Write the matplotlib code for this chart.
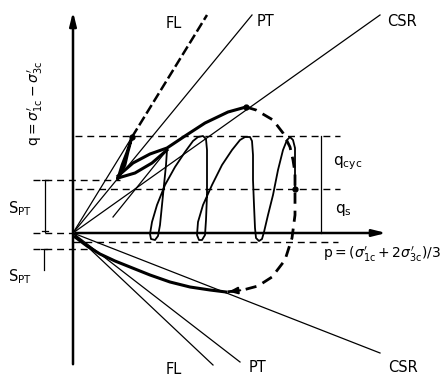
import numpy as np
import matplotlib.pyplot as plt

plt.rcParams['font.family'] = ['DejaVu Sans']
plt.rcParams['mathtext.fontset'] = 'dejavusans'

# stress path values (p along x, q along y, arbitrary units)
q_top = 97      # q_s + q_cyc
q_s = 44
q_bot = -9      # q_s - q_cyc
q_spt = 53
q_spt_low = -16

# envelope lines: end points (p, q), all start at the origin
line_names = ['FL', 'PT', 'CSR']
upper_p = [134, 179, 307]
upper_q = [218, 218, 218]
lower_p = [140, 167, 307]
lower_q = [-132, -129, -120]

# point where the path hits the FL line
fl_p, fl_q = 59, 96

# first loading spike towards FL
spike_p = [45, 49, 54, 59, 55, 52, 47, 45]
spike_q = [55, 68, 81, 96, 81, 68, 58, 55]

# thick lens and monotonic curve up to CSR
lens_p = [45, 62, 79, 94]
lens_q = [55, 60, 70, 83]
mono_p = [45, 60, 77, 94, 112, 132, 155, 173]
mono_q = [57, 70, 79, 85, 97, 110, 121, 126]

# short thin line under the lens
short_p = [40, 94]
short_q = [16, 83]

# cyclic loops
cyc_p = [94, 93, 91, 89, 87, 85, 82, 78, 77, 79, 84, 92, 102, 112, 120, 125, 130,
         133, 134, 134, 134, 133, 132, 129, 126, 124, 125, 130, 139, 149, 159, 167,
         172, 177, 179, 180, 180, 181, 182, 183, 186, 189, 191, 195, 200, 205, 210,
         214, 217, 220, 222, 222, 222]
cyc_q = [83, 68, 48, 28, 8, -3, -7, -6, -1, 11, 28, 48, 66, 81, 92, 96, 97,
         94, 83, 63, 38, 13, -2, -7, -7, -2, 11, 28, 48, 68, 83, 93,
         96, 96, 92, 78, 53, 28, 5, -5, -8, -6, 1, 18, 38, 63, 83,
         93, 96, 93, 85, 68, 44]

# dashed arc (undrained path beyond CSR)
arc_p = [173, 183, 200, 210, 217, 220, 222, 222, 222, 219, 212, 199, 185, 170, 153]
arc_q = [126, 123, 113, 100, 86, 73, 60, 44, 18, -5, -27, -44, -53, -57, -59]

# lower (extension) thick curve
low_p = [2, 14, 27, 42, 57, 77, 97, 117, 137, 153]
low_q = [-4, -13, -21, -28, -34, -42, -49, -54, -57, -59]

fig = plt.figure(figsize=(4.46, 3.78), dpi=100)
ax = fig.add_axes([0, 0, 1, 1])
ax.set_xlim(-73, 373)
ax.set_ylim(-145, 233)
ax.axis('off')

# axes of the diagram
ax.annotate('', xy=(0, 224), xytext=(0, -134),
            arrowprops=dict(arrowstyle='-|>,head_length=0.8,head_width=0.2', lw=1.8, color='black'))
ax.annotate('', xy=(316, 0), xytext=(0, 0),
            arrowprops=dict(arrowstyle='-|>,head_length=0.8,head_width=0.2', lw=1.8, color='black'))

# dashed reference levels
dash = dict(color='black', lw=1.0, ls=(0, (5, 3.5)))
ax.plot([2, 267], [q_top, q_top], **dash)
ax.plot([2, 267], [q_s, q_s], **dash)
ax.plot([0, 265], [q_bot, q_bot], **dash)
ax.plot([-40, 47], [q_spt, q_spt], **dash)
ax.plot([-40, 0], [0, 0], **dash)
ax.plot([-40, 20], [q_spt_low, q_spt_low], **dash)

# envelope lines
for name, p1, q1 in zip(line_names, upper_p, upper_q):
    if name == 'FL':
        ax.plot([0, fl_p], [0, fl_q], color='black', lw=0.9)
        ax.plot([fl_p, p1], [fl_q, q1], color='black', lw=1.8, ls=(0, (4, 1.5)))
    else:
        ax.plot([0, p1], [0, q1], color='black', lw=0.9)
for name, p1, q1 in zip(line_names, lower_p, lower_q):
    ax.plot([0, p1], [0, q1], color='black', lw=0.9)

# stress paths
ax.plot(spike_p, spike_q, color='black', lw=2.0)
ax.plot(lens_p, lens_q, color='black', lw=2.2)
ax.plot(mono_p, mono_q, color='black', lw=2.2)
ax.plot(short_p, short_q, color='black', lw=0.9)
ax.plot(cyc_p, cyc_q, color='black', lw=1.3)
ax.plot(arc_p, arc_q, color='black', lw=2.0, ls=(0, (4, 2.5)))
ax.plot(low_p, low_q, color='black', lw=2.2)
ax.annotate('', xy=(arc_p[-1], arc_q[-1]), xytext=(arc_p[-2], arc_q[-2]),
            arrowprops=dict(arrowstyle='-|>,head_length=0.5,head_width=0.2', lw=1.5, color='black'))
ax.plot([fl_p, mono_p[-1], cyc_p[-1]], [fl_q, mono_q[-1], cyc_q[-1]], 'o', color='black', ms=3.5)

# brackets
ax.plot([-28, -28], [q_spt, 1], color='black', lw=0.9)
ax.plot([-31, -25], [q_spt, q_spt], color='black', lw=0.9)
ax.plot([-31, -25], [2, 2], color='black', lw=0.9)
ax.plot([-29, -29], [q_spt_low, -37], color='black', lw=0.9)
ax.plot([-32, -26], [q_spt_low, q_spt_low], color='black', lw=0.9)
ax.plot([248, 248], [q_top, 0], color='black', lw=0.9)

# labels
fs = 10.5
ax.text(101, 210, 'FL', fontsize=fs, ha='center', va='center')
ax.text(193, 212, 'PT', fontsize=fs, ha='center', va='center')
ax.text(329, 212, 'CSR', fontsize=fs, ha='center', va='center')
ax.text(101, -136, 'FL', fontsize=fs, ha='center', va='center')
ax.text(185, -135, 'PT', fontsize=fs, ha='center', va='center')
ax.text(330, -135, 'CSR', fontsize=fs, ha='center', va='center')
ax.text(-38, 130, r"$\mathrm{q}=\sigma_{\mathrm{1c}}^{\prime}-\sigma_{\mathrm{3c}}^{\prime}$", fontsize=10,
        rotation=90, ha='center', va='center')
ax.text(250, -21, r"$\mathrm{p}=(\sigma_{\mathrm{1c}}^{\prime}+2\sigma_{\mathrm{3c}}^{\prime})/3$",
        fontsize=10, ha='left', va='center')
ax.text(260, 70, r"$\mathrm{q_{cyc}}$", fontsize=11, ha='left', va='center')
ax.text(262, 23, r"$\mathrm{q_s}$", fontsize=11, ha='left', va='center')
ax.text(-53, 24, r"S$_{\mathrm{PT}}$", fontsize=fs, ha='center', va='center')
ax.text(-53, -44, r"S$_{\mathrm{PT}}$", fontsize=fs, ha='center', va='center')

fig.savefig('out.png', dpi=100)
